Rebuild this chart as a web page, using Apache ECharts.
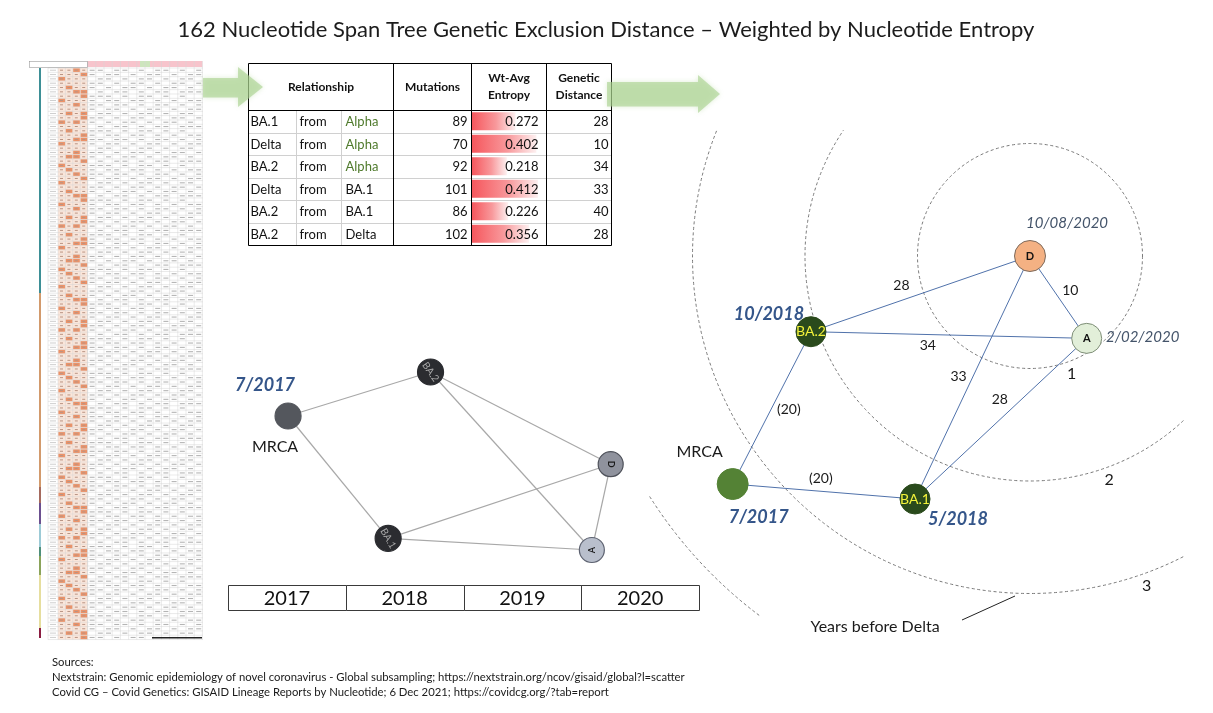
<!DOCTYPE html>
<html><head><meta charset="utf-8">
<script src="https://cdn.jsdelivr.net/npm/echarts@6/dist/echarts.min.js"></script>
<style>html,body{margin:0;padding:0;background:#fff}#c{width:1213px;height:713px}</style>
</head><body><div id="c"></div>
<script>
// ---------------- DATA ----------------
const titleText = '162 Nucleotide Span Tree Genetic Exclusion Distance \u2013 Weighted by Nucleotide Entropy';

// table
const tableHeaders = ['Relationship', 'Mutations', 'Wt-Avg\nEntropy', 'Genetic\nDistance'];
const tableChild  = ['BA.1', 'Delta', 'BA.2', 'Delta', 'BA.2', 'BA.2'];
const tableVerb   = ['from', 'from', 'from', 'from', 'from', 'from'];
const tableParent = ['Alpha', 'Alpha', 'Alpha', 'BA.1', 'BA.1', 'Delta'];
const mutations   = [89, 70, 92, 101, 86, 102];
const entropy     = [0.272, 0.402, 0.218, 0.412, 0.226, 0.356];
const distance    = [28, 10, 34, 33, 40, 28];

// left graph: x = calendar year, y = layout units
const yearLabels = ['2017', '2018', '2019', '2020'];
const yearStart  = [2017, 2018, 2019, 2020];
const leftNodes  = ['MRCA', 'BA.2', 'BA.1', 'D', 'A'];
const leftNodeText = ['', 'BA.2', 'BA.1', 'D', 'A'];
const leftX = [2017.51, 2018.72, 2018.36, 2020.25, 2020.09];
const leftY = [10.2, 12.4, 4.08, 7.79, 3.5];
const leftEdges = [['MRCA','BA.2'], ['MRCA','BA.1'], ['BA.2','D'], ['BA.2','A'], ['BA.1','D'], ['BA.1','A'], ['D','A']];
const leftAnnot = ['7/2017', 'MRCA'];

// right graph: years from Delta (Delta at origin)
const rightNodes = ['D', 'A', 'BA.2', 'BA.1', 'MRCA'];
const rightNodeText = ['D', 'A', 'BA.2', 'BA.1', ''];
const rightX = [0, 0.504, -1.947, -1.022, -2.643];
const rightY = [0, -0.732, -0.673, -2.16, -2.027];
const rightDates = ['10/08/2020', '2/02/2020', '10/2018', '5/2018', '7/2017'];
const rightEdges = [['BA.2','D'], ['D','A'], ['BA.2','A'], ['D','BA.1'], ['A','BA.1'], ['MRCA','BA.2'], ['MRCA','BA.1']];
const rightEdgeLabels = ['28', '10', '34', '33', '28', '(20)', '(20)'];
const ringYears  = [1, 2, 3, 4];
const ringLabels = ['1', '2', '3', ''];
const ringCaption = 'Years before Delta';

const sources = [
  'Sources:',
  'Nextstrain: Genomic epidemiology of novel coronavirus - Global subsampling; https://nextstrain.org/ncov/gisaid/global?l=scatter',
  'Covid CG \u2013 Covid Genetics: GISAID Lineage Reports by Nucleotide; 6 Dec 2021; https://covidcg.org/?tab=report'
];

// ---------------- STYLES / LAYOUT ----------------
const F = 'Lato, "Open Sans", sans-serif';
const colX = [248.5, 296.5, 341.5, 393.5, 471.5, 546.5, 611.5];
const tTop = 63.5, tHead = 110, rowH = 22.5;
const ringArcs = [[0, 360], [47, 214], [63, 202], [127, 148]];
const ringLabelAngle = 70.5, ringLabelGap = 12;
const edgeLabelOffsets = [[-19,-8], [12,-6.5], [-21,10], [-14,-1], [-1,-19], [17,2], [-3,-13]];
const dateOffsets = {D:[37,-33], A:[56,-1], 'BA.2':[-42,-18], 'BA.1':[43,20], MRCA:[26,33]};
const dateBold = {D:false, A:false, 'BA.2':true, 'BA.1':true, MRCA:true};
const leftAnnotOffsets = [[-23,-31], [-13,31]];
const leftStyle = {
  MRCA: {size:26, color:'#54575d', border:'#54575d', text:'#fff', rot:0, fs:10},
  'BA.2': {size:26, color:'#2b2c30', border:'#2b2c30', text:'#a9a9a9', rot:-55, fs:10},
  'BA.1': {size:26, color:'#2b2c30', border:'#2b2c30', text:'#a9a9a9', rot:-60, fs:10},
  D: {size:25, color:'#8f929d', border:'#4e515a', text:'#1a1a1a', rot:-90, fs:9},
  A: {size:25, color:'#b9bfcc', border:'#5d6270', text:'#1a1a1a', rot:90, fs:9}
};
const rightStyle = {
  D: {size:31, color:'#f4b183', border:'#7d6a5c', text:'#111', fs:11, bold:true},
  A: {size:30, color:'#e2efd9', border:'#7f8f78', text:'#111', fs:11, bold:true},
  'BA.2': {size:30, color:'#2a4a1c', border:'#2a4a1c', text:'#f2f23a', fs:14, bold:false},
  'BA.1': {size:30, color:'#2a4a1c', border:'#2a4a1c', text:'#f2f23a', fs:14, bold:false},
  MRCA: {size:31, color:'#548235', border:'#548235', text:'#fff', fs:11, bold:false}
};

// ---------------- spreadsheet thumbnail (decorative) ----------------
const orangePattern = ['0010','0001','1000','0000','0100','0011','0001','1000','0010','0000','0101','0001',
                       '1010','0000','0100','0001','0011','1000','0000','0010','0110','0001','1000','0100'];
const textPattern = ['11011010110101','10110101101011','01101011010110','11010110101101',
                     '10101101011010','01011010110111','11101011010100','10110110101011'];
const barSegments = [[7,232,'#3d8f96'],[232,426,'#d29a6c'],[426,442,'#a56a5e'],[442,463,'#6b4f8f'],
                     [463,486,'#9ccad6'],[486,495,'#4e8f7a'],[495,514,'#8aa35a'],[514,567,'#e6de9e'],[567,577,'#8b1d42']];
function buildSheet() {
  const W = 175, H = 586;
  const cv = document.createElement('canvas');
  cv.width = W; cv.height = H;
  const g = cv.getContext('2d');
  g.fillStyle = '#fff'; g.fillRect(0, 0, W, H);
  const top = 7, rh = 4.33, nRows = 132;
  const oc0 = 29, ocW = 7.4, dc0 = 58.6, dcW = 8.2, nDc = 14;
  g.fillStyle = '#f7c4cc'; g.fillRect(dc0, 0, nDc * dcW, 6);
  g.fillStyle = '#cde5bd'; g.fillRect(111, 0, 10, 6);
  g.fillStyle = '#fbe6da'; g.fillRect(oc0, top, 4 * ocW, nRows * rh);
  for (let r = 0; r < nRows; r++) {
    const y = top + r * rh;
    const p = orangePattern[r % orangePattern.length];
    for (let c = 0; c < 4; c++) {
      if (p[c] === '1') { g.fillStyle = '#ec9268'; g.fillRect(oc0 + c * ocW + 0.3, y + 0.3, ocW - 0.6, rh - 0.6); }
      g.fillStyle = '#b89484'; g.fillRect(oc0 + c * ocW + 2, y + 1.7, 3, 1);
    }
    const t = textPattern[r % textPattern.length];
    g.fillStyle = '#b5b5b5';
    for (let c = 0; c < nDc; c++) if (t[c] === '1') g.fillRect(dc0 + c * dcW + 2, y + 1.7, 5, 1.1);
    g.fillStyle = '#cfcfcf'; g.fillRect(21, y + 1.7, 6, 1);
  }
  g.strokeStyle = '#d4d4d4'; g.lineWidth = 0.5;
  g.beginPath();
  for (let r = 0; r <= nRows; r++) { const y = top + r * rh; g.moveTo(19, y); g.lineTo(W - 1, y); }
  for (let k = 0; k <= 4; k++) { g.moveTo(oc0 + k * ocW, top); g.lineTo(oc0 + k * ocW, top + nRows * rh); }
  for (let k = 0; k <= nDc; k++) { g.moveTo(dc0 + k * dcW, 0); g.lineTo(dc0 + k * dcW, top + nRows * rh); }
  g.moveTo(19, top); g.lineTo(19, top + nRows * rh);
  g.stroke();
  barSegments.forEach(s => { g.fillStyle = s[2]; g.fillRect(10, s[0], 2, s[1] - s[0]); });
  g.strokeStyle = '#999'; g.lineWidth = 0.6; g.strokeRect(0.5, 0.5, 58, 6);
  g.fillStyle = '#222'; g.fillRect(123, 576, 50, 1.5);
  return cv;
}

// ---------------- BUILD ----------------
const chart = echarts.init(document.getElementById('c'));
const rowIds = tableChild.map((c, i) => c + ' ' + tableVerb[i] + ' ' + tableParent[i]);
const els = [];
const txt = (x, y, text, font, fill, align, z) => els.push({
  type: 'text', x: x, y: y, z: z || 20,
  style: {text: text, font: font, fill: fill, align: align || 'left', verticalAlign: 'middle',
          textAlign: align || 'left', textVerticalAlign: 'middle', lineHeight: 17}
});
const line = (x1, y1, x2, y2, color, w, z) => els.push({
  type: 'line', z: z || 20, shape: {x1, y1, x2, y2}, style: {stroke: color, lineWidth: w || 1}
});

// title
txt(606, 30, titleText, '22px ' + F, '#1c1c1c', 'center');
// thumbnail
els.push({type: 'image', x: 29, y: 61, z: 1, style: {image: buildSheet(), width: 175, height: 586}});
// arrows
const arrowFill = 'rgba(166,208,140,0.6)';
els.push({type: 'polygon', z: 30, shape: {points: [[203,78],[238,78],[238,67],[263,87],[238,107],[238,97.5],[203,97.5]]},
  style: {fill: arrowFill, shadowBlur: 5, shadowColor: 'rgba(166,208,140,0.6)'}});
els.push({type: 'polygon', z: 30, shape: {points: [[607,82],[698,82],[698,75],[720,94],[698,113],[698,106.5],[607,106.5]]},
  style: {fill: arrowFill, shadowBlur: 5, shadowColor: 'rgba(166,208,140,0.6)'}});

// table grid lines
const tBottom = tHead + rowH * tableChild.length;
for (let i = 1; i < tableChild.length; i++) line(colX[0], Math.round(tHead + i * rowH) + 0.5, colX[6], Math.round(tHead + i * rowH) + 0.5, '#d0d0d0', 1, 19);
[1, 2].forEach(k => line(colX[k], tHead, colX[k], tBottom, '#d0d0d0', 1, 19));
[0, 3, 4, 5, 6].forEach(k => line(colX[k], tTop, colX[k], tBottom + 0.5, '#000', 1));
line(colX[0], tTop, colX[6], tTop, '#000', 1);
line(colX[0], tHead + 0.5, colX[6], tHead + 0.5, '#000', 1);
line(colX[0], tBottom + 0.5, colX[6], tBottom + 0.5, '#000', 1);
// headers
const hdrFont = 'bold 12px ' + F;
txt((colX[0] + colX[3]) / 2, 87, tableHeaders[0], hdrFont, '#111', 'center');
txt((colX[3] + colX[4]) / 2, 87, tableHeaders[1], hdrFont, '#111', 'center');
txt((colX[4] + colX[5]) / 2, 87, tableHeaders[2], hdrFont, '#111', 'center');
txt((colX[5] + colX[6]) / 2, 87, tableHeaders[3], hdrFont, '#111', 'center');
// body
const bodyFont = '13px ' + F;
tableChild.forEach((c, i) => {
  const y = tHead + (i + 0.5) * rowH + 1;
  txt(colX[0] + 2, y, c, bodyFont, '#111');
  txt(colX[1] + 3, y, tableVerb[i], bodyFont, '#111');
  txt(colX[2] + 4, y, tableParent[i], bodyFont, tableParent[i] === 'Alpha' ? '#4f7a2c' : '#111');
  txt(colX[4] - 4, y, String(mutations[i]), bodyFont, '#111', 'right');
  txt(colX[5] - 8, y, entropy[i].toFixed(3), bodyFont, '#111', 'right', 25);
  txt(colX[6] - 3, y, String(distance[i]), bodyFont, '#111', 'right');
});

// sources
sources.forEach((s, i) => txt(52, 662 + i * 15, s, '11.3px ' + F, '#1a1a1a'));
// ring caption + leader
txt(875, 627, ringCaption, '16px ' + F, '#1a1a1a', 'center');
line(962, 620, 1015, 596, '#222', 1);

// ---- series ----
const leftIdx = {}; leftNodes.forEach((n, i) => leftIdx[n] = i);
const rightIdx = {}; rightNodes.forEach((n, i) => rightIdx[n] = i);

const leftGraph = {
  type: 'graph', layout: 'none', coordinateSystem: 'cartesian2d', xAxisIndex: 1, yAxisIndex: 1,
  z: 3, silent: true,
  data: leftNodes.map((n, i) => {
    const s = leftStyle[n];
    return {name: 'L_' + n, value: [leftX[i], leftY[i]], symbolSize: s.size,
      itemStyle: {color: s.color, borderColor: s.border, borderWidth: 1.2, opacity: 1},
      label: {show: !!leftNodeText[i], formatter: leftNodeText[i], position: 'inside', color: s.text,
              fontSize: s.fs, fontWeight: n.length === 1 ? 'bold' : 'normal', fontFamily: F, rotate: s.rot}};
  }),
  links: leftEdges.map(e => ({source: 'L_' + e[0], target: 'L_' + e[1]})),
  lineStyle: {color: '#a8a8a8', width: 1.2, opacity: 1, curveness: 0}
};
const leftLabels = {
  type: 'scatter', xAxisIndex: 1, yAxisIndex: 1, z: 4, silent: true, symbolSize: 1,
  itemStyle: {color: 'rgba(0,0,0,0)', opacity: 1},
  data: leftAnnot.map((t, i) => ({
    value: [leftX[leftIdx.MRCA], leftY[leftIdx.MRCA]],
    label: {show: true, position: 'inside', offset: leftAnnotOffsets[i], formatter: t,
      fontFamily: F, fontSize: i === 0 ? 18 : 16, fontWeight: i === 0 ? 'bold' : 'normal',
      fontStyle: i === 0 ? 'italic' : 'normal', color: i === 0 ? '#35568a' : '#1a1a1a', opacity: 1}
  }))
};
const yearBoxes = {
  type: 'custom', xAxisIndex: 1, yAxisIndex: 1, z: 2, silent: true,
  data: yearStart.map((y, i) => [y, i]),
  renderItem: (params, api) => {
    const y0 = api.value(0), i = api.value(1);
    const a = api.coord([y0, 1.75]), b = api.coord([y0 + 1, 0.5]);
    const x0 = Math.round(a[0]) + 0.5, yt = Math.round(a[1]) + 0.5;
    return {type: 'group', children: [
      {type: 'rect', shape: {x: x0, y: yt, width: Math.round(b[0] - a[0]), height: Math.round(b[1] - a[1])},
       style: {fill: '#fff', stroke: '#3a3a3a', lineWidth: 1}},
      {type: 'text', x: (a[0] + b[0]) / 2, y: (a[1] + b[1]) / 2 + 1,
       style: {text: yearLabels[i], font: '20px ' + F, fill: '#111', align: 'center', verticalAlign: 'middle',
               textAlign: 'center', textVerticalAlign: 'middle'}}
    ]};
  }
};
const rings = {
  type: 'custom', xAxisIndex: 2, yAxisIndex: 2, z: 1, silent: true,
  data: ringYears.map((r, i) => [r, i]),
  renderItem: (params, api) => {
    const r = api.value(0), i = api.value(1);
    const c = api.coord([0, 0]);
    const rp = api.size([r, 0])[0];
    const arc = ringArcs[i];
    const children = [{type: 'arc',
      shape: {cx: c[0], cy: c[1], r: rp, startAngle: arc[0] * Math.PI / 180, endAngle: arc[1] * Math.PI / 180, clockwise: true},
      style: {fill: 'none', stroke: '#7a7a7a', lineWidth: 1, lineDash: [3, 2.5]}}];
    if (ringLabels[i]) {
      const ang = ringLabelAngle * Math.PI / 180, rr = rp + ringLabelGap;
      children.push({type: 'text', x: c[0] + rr * Math.cos(ang), y: c[1] + rr * Math.sin(ang),
        style: {text: ringLabels[i], font: '16px ' + F, fill: '#1a1a1a', align: 'center', verticalAlign: 'middle',
                textAlign: 'center', textVerticalAlign: 'middle'}});
    }
    return {type: 'group', children: children};
  }
};
const rightGraph = {
  type: 'graph', layout: 'none', coordinateSystem: 'cartesian2d', xAxisIndex: 2, yAxisIndex: 2,
  z: 3, silent: true,
  data: rightNodes.map((n, i) => {
    const s = rightStyle[n];
    return {name: 'R_' + n, value: [rightX[i], rightY[i]], symbolSize: s.size,
      itemStyle: {color: s.color, borderColor: s.border, borderWidth: 1, opacity: 1},
      label: {show: !!rightNodeText[i], formatter: rightNodeText[i], position: 'inside', color: s.text,
              fontSize: s.fs, fontWeight: s.bold ? 'bold' : 'normal', fontFamily: F}};
  }),
  links: rightEdges.map(e => ({source: 'R_' + e[0], target: 'R_' + e[1]})),
  lineStyle: {color: '#5072ab', width: 1, opacity: 1, curveness: 0}
};
const rightLabelData = [];
rightNodes.forEach((n, i) => {
  const b = dateBold[n];
  rightLabelData.push({value: [rightX[i], rightY[i]], label: {show: true, position: 'inside', offset: dateOffsets[n],
    formatter: rightDates[i], fontFamily: F, fontStyle: 'italic', fontWeight: b ? 'bold' : 'normal',
    fontSize: b ? 18 : 15, color: b ? '#35568a' : '#44546a', opacity: 1}});
});
rightLabelData.push({value: [rightX[rightIdx.MRCA], rightY[rightIdx.MRCA]], label: {show: true, position: 'inside',
  offset: [-33, -32], formatter: 'MRCA', fontFamily: F, fontSize: 16, color: '#1a1a1a', opacity: 1}});
rightEdges.forEach((e, k) => {
  const a = rightIdx[e[0]], b = rightIdx[e[1]];
  rightLabelData.push({value: [(rightX[a] + rightX[b]) / 2, (rightY[a] + rightY[b]) / 2],
    label: {show: true, position: 'inside', offset: edgeLabelOffsets[k], formatter: rightEdgeLabels[k],
      fontFamily: F, fontSize: 14, color: '#1a1a1a', opacity: 1}});
});
const rightLabels = {
  type: 'scatter', xAxisIndex: 2, yAxisIndex: 2, z: 4, silent: true, symbolSize: 1,
  itemStyle: {color: 'rgba(0,0,0,0)', opacity: 1}, data: rightLabelData
};
const entropyBars = {
  type: 'bar', xAxisIndex: 0, yAxisIndex: 0, z: 2, silent: true, barWidth: 18, data: entropy,
  itemStyle: {color: new echarts.graphic.LinearGradient(0, 0, 1, 0, [
    {offset: 0, color: '#f6575d'}, {offset: 0.55, color: '#f8989b'}, {offset: 1, color: '#fdf0f0'}])}
};

chart.setOption({
  animation: false,
  backgroundColor: '#ffffff',
  grid: [
    {left: 472, top: 110, width: 74, height: 135},
    {left: 228, top: 340, width: 471, height: 280},
    {left: 580, top: 98.5, width: 630, height: 607.5}
  ],
  xAxis: [
    {gridIndex: 0, type: 'value', min: 0, max: 0.4625, show: false},
    {gridIndex: 1, type: 'value', min: 2017, max: 2021, show: false},
    {gridIndex: 2, type: 'value', min: -4, max: 1.6, show: false}
  ],
  yAxis: [
    {gridIndex: 0, type: 'category', data: rowIds, inverse: true, show: false},
    {gridIndex: 1, type: 'value', min: 0, max: 14, show: false},
    {gridIndex: 2, type: 'value', min: -4, max: 1.4, show: false}
  ],
  series: [entropyBars, yearBoxes, leftGraph, leftLabels, rings, rightGraph, rightLabels],
  graphic: {elements: els}
});
</script></body></html>
